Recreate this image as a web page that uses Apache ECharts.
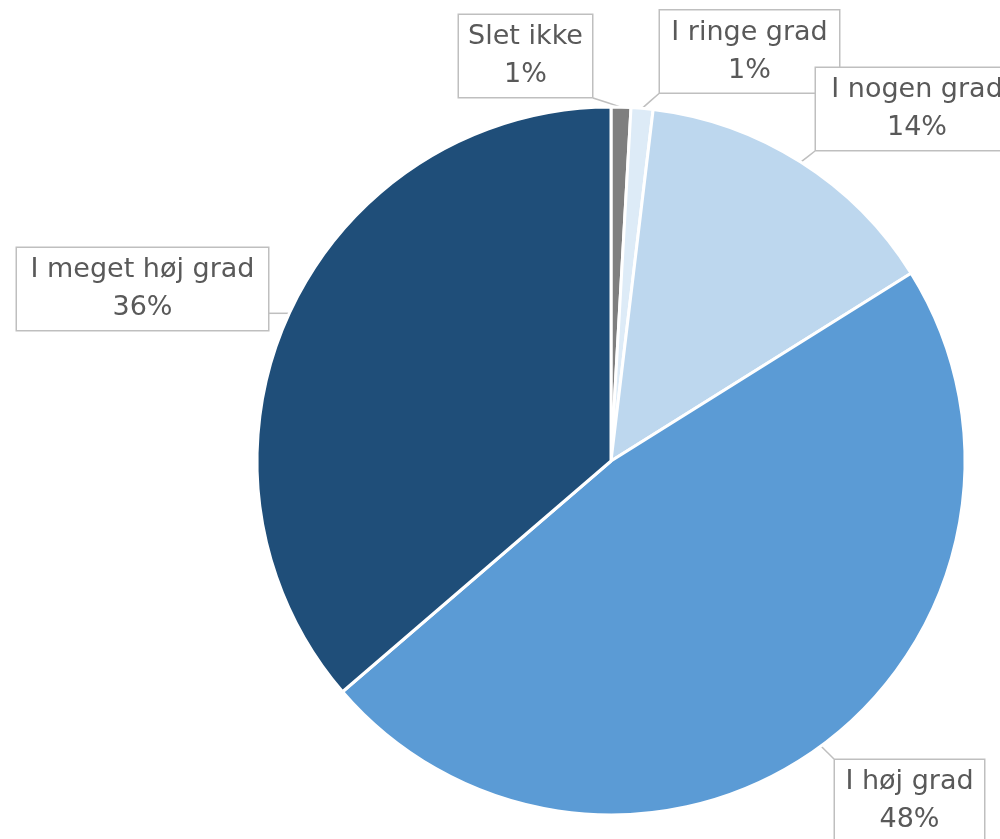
<!DOCTYPE html>
<html>
<head>
<meta charset="utf-8">
<script src="https://cdn.jsdelivr.net/npm/echarts@6/dist/echarts.min.js"></script>
<style>html,body{margin:0;padding:0;background:#fff;}#c{width:1000px;height:839px;}</style>
</head>
<body>
<div id="c"></div>
<script>
const categories = ['Slet ikke', 'I ringe grad', 'I nogen grad', 'I høj grad', 'I meget høj grad'];
const values = [0.9, 1.0, 14.2, 47.6, 36.3];
const colors = ['#7f7f7f', '#ddebf7', '#bdd7ee', '#5b9bd5', '#1f4e79'];

// label box layout (center x, center y, width, height)
const boxes = [
  [525.5, 56, 135, 84],
  [749.5, 51.5, 181, 84],
  [917, 109, 204, 84],
  [909.5, 801, 151, 84],
  [142.5, 289, 253, 84]
];

const chart = echarts.init(document.getElementById('c'));
chart.setOption({
  animation: false,
  series: [{
    type: 'pie',
    center: [611, 461],
    radius: 354,
    startAngle: 90,
    clockwise: true,
    avoidLabelOverlap: false,
    itemStyle: { borderColor: '#ffffff', borderWidth: 3 },
    data: categories.map((c, i) => ({
      name: c,
      value: values[i],
      itemStyle: { color: colors[i] },
      label: { width: boxes[i][2] - 2, height: boxes[i][3] - 6 }
    })),
    label: {
      show: true,
      position: 'outside',
      formatter: p => p.name + '\n' + Math.round(p.percent) + '%',
      fontFamily: 'DejaVu Sans',
      fontSize: 27,
      lineHeight: 38,
      color: '#595959',
      align: 'center',
      verticalAlign: 'middle',
      backgroundColor: '#ffffff',
      borderColor: '#bfbfbf',
      borderWidth: 1.5,
      padding: [4, 0, 0, 0],
      overflow: 'none'
    },
    labelLine: {
      show: true,
      length: 10,
      length2: 10,
      lineStyle: { color: '#bfbfbf', width: 1.5 }
    },
    labelLayout: function (params) {
      const b = boxes[params.dataIndex];
      const x0 = b[0] - b[2] / 2, x1 = b[0] + b[2] / 2;
      const y0 = b[1] - b[3] / 2, y1 = b[1] + b[3] / 2;
      const tip = params.labelLinePoints ? params.labelLinePoints[0] : [b[0], b[1]];
      const ax = Math.min(Math.max(tip[0], x0), x1);
      const ay = Math.min(Math.max(tip[1], y0), y1);
      return {
        x: b[0],
        y: b[1],
        align: 'center',
        verticalAlign: 'middle',
        labelLinePoints: [tip, [(tip[0] + ax) / 2, (tip[1] + ay) / 2], [ax, ay]]
      };
    }
  }]
});
</script>
</body>
</html>
